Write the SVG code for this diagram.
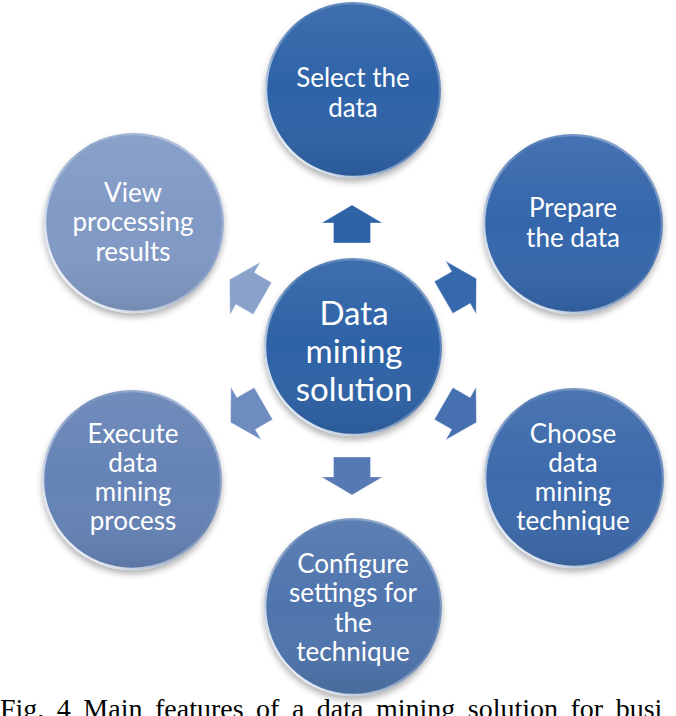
<svg xmlns="http://www.w3.org/2000/svg" width="676" height="716" viewBox="0 0 676 716">
<style>
  .lbl { font-family: Lato, "Open Sans", sans-serif; font-size: 26px; fill: #ffffff; text-anchor: middle; }
  .big { font-size: 33px; }
  .rim { fill: none; stroke: url(#rimG); stroke-width: 2.5; }
  .shade { fill: url(#shadeG); }
  .arrow { stroke: #ffffff; stroke-opacity: 0.35; stroke-width: 1; stroke-linejoin: miter; }
  .cap { font-family: "Liberation Serif", serif; font-size: 28px; fill: #000000; }
</style>
<defs>
  <filter id="sh" x="-30%" y="-30%" width="160%" height="170%">
    <feDropShadow dx="0" dy="4" stdDeviation="3" flood-color="#000000" flood-opacity="0.3"/>
  </filter>
  <linearGradient id="shadeG" x1="0" y1="0" x2="0" y2="1">
    <stop offset="0" stop-color="#ffffff" stop-opacity="0.08"/>
    <stop offset="0.5" stop-color="#ffffff" stop-opacity="0"/>
    <stop offset="1" stop-color="#000000" stop-opacity="0.1"/>
  </linearGradient>
  <linearGradient id="rimG" x1="0.1" y1="0.9" x2="0.9" y2="0.1">
    <stop offset="0" stop-color="#ffffff" stop-opacity="0.95"/>
    <stop offset="0.4" stop-color="#ffffff" stop-opacity="0.35"/>
    <stop offset="0.6" stop-color="#ffffff" stop-opacity="0.05"/>
    <stop offset="1" stop-color="#ffffff" stop-opacity="0.4"/>
  </linearGradient>
  <path id="arr" d="M0,-19 L30.5,-1 L18.5,-1 L18.5,19 L-18.5,19 L-18.5,-1 L-30.5,-1 Z"/>
</defs>
<rect width="676" height="716" fill="#ffffff"/>

<g id="connectors">
  <use href="#arr" class="arrow" fill="#2e63a8" transform="translate(352,224)"/>
  <use href="#arr" class="arrow" fill="#3668ac" transform="translate(460,288) rotate(60)"/>
  <use href="#arr" class="arrow" fill="#4670b0" transform="translate(460,413) rotate(120)"/>
  <use href="#arr" class="arrow" fill="#5679b3" transform="translate(352,476) rotate(180)"/>
  <use href="#arr" class="arrow" fill="#6e8cbf" transform="translate(247,413) rotate(240)"/>
  <use href="#arr" class="arrow" fill="#8aa1ca" transform="translate(246,289) rotate(300)"/>
</g>

<g id="node-select">
  <circle cx="353" cy="90" r="88" fill="#2e62a7" filter="url(#sh)"/>
  <circle cx="353" cy="90" r="88" class="shade"/>
  <circle cx="353" cy="90" r="87" class="rim"/>
  <text class="lbl" x="353" y="87">Select the</text>
  <text class="lbl" x="353" y="117">data</text>
</g>

<g id="node-prepare">
  <circle cx="573" cy="224" r="90" fill="#3466ab" filter="url(#sh)"/>
  <circle cx="573" cy="224" r="90" class="shade"/>
  <circle cx="573" cy="224" r="89" class="rim"/>
  <text class="lbl" x="573" y="217">Prepare</text>
  <text class="lbl" x="573" y="247">the data</text>
</g>

<g id="node-choose">
  <circle cx="574" cy="478" r="90" fill="#3e6aab" filter="url(#sh)"/>
  <circle cx="574" cy="478" r="90" class="shade"/>
  <circle cx="574" cy="478" r="89" class="rim"/>
  <text class="lbl" x="573" y="443">Choose</text>
  <text class="lbl" x="573" y="472">data</text>
  <text class="lbl" x="573" y="501">mining</text>
  <text class="lbl" x="573" y="530">technique</text>
</g>

<g id="node-configure">
  <circle cx="353" cy="607" r="89" fill="#4f74ad" filter="url(#sh)"/>
  <circle cx="353" cy="607" r="89" class="shade"/>
  <circle cx="353" cy="607" r="88" class="rim"/>
  <text class="lbl" x="353" y="573">Configure</text>
  <text class="lbl" x="353" y="602">settings for</text>
  <text class="lbl" x="353" y="632">the</text>
  <text class="lbl" x="353" y="661">technique</text>
</g>

<g id="node-execute">
  <circle cx="132" cy="480" r="90" fill="#6583b6" filter="url(#sh)"/>
  <circle cx="132" cy="480" r="90" class="shade"/>
  <circle cx="132" cy="480" r="89" class="rim"/>
  <text class="lbl" x="133" y="443">Execute</text>
  <text class="lbl" x="133" y="472">data</text>
  <text class="lbl" x="133" y="501">mining</text>
  <text class="lbl" x="133" y="530">process</text>
</g>

<g id="node-view">
  <circle cx="134" cy="223" r="90" fill="#8099c5" filter="url(#sh)"/>
  <circle cx="134" cy="223" r="90" class="shade"/>
  <circle cx="134" cy="223" r="89" class="rim"/>
  <text class="lbl" x="133" y="202">View</text>
  <text class="lbl" x="133" y="231">processing</text>
  <text class="lbl" x="133" y="261">results</text>
</g>

<g id="node-center">
  <circle cx="353" cy="347" r="89" fill="#2d62a6" filter="url(#sh)"/>
  <circle cx="353" cy="347" r="89" class="shade"/>
  <circle cx="353" cy="347" r="88" class="rim"/>
  <text class="lbl big" x="354" y="325">Data</text>
  <text class="lbl big" x="354" y="363">mining</text>
  <text class="lbl big" x="354" y="401">solution</text>
</g>

<text class="cap" x="0" y="718" word-spacing="5.5">Fig. 4 Main features of a data mining solution for busi</text>
</svg>
